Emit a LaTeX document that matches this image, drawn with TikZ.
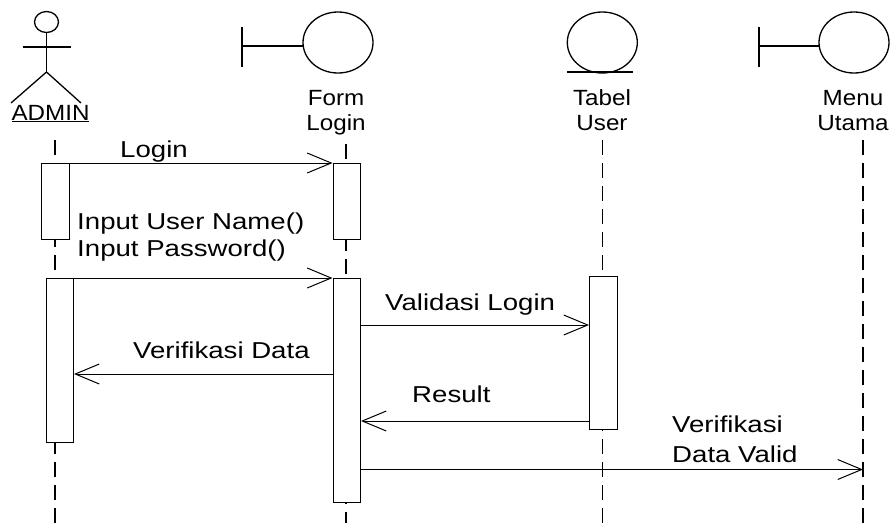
\documentclass[tikz,border=0pt]{standalone}
\usepackage{fontspec}
\setmainfont{Liberation Sans}
\usetikzlibrary{arrows.meta}
\usetikzlibrary{shapes.geometric}

\tikzset{
	figure/.style={line width=1.3pt},
	lifeline/.style={line width=1.5pt,dash pattern=on 14.5pt off 8.5pt},
	activation/.style={draw,fill=white,line width=1pt,anchor=north west,inner sep=0pt,minimum width=27.5pt},
	message/.style={line width=1pt,-{Straight Barb[length=24pt,width=20pt,line width=1pt]}},
	bubble/.style={draw,fill=white,ellipse,line width=1.3pt,inner sep=0pt,minimum width=70pt,minimum height=61pt},
	headlabel/.style={font=\fontsize{22}{25}\selectfont,align=center,anchor=base,xscale=1.1,transform shape,inner sep=0pt},
	msglabel/.style={font=\fontsize{23}{26}\selectfont,anchor=base west,xscale=1.2,transform shape,inner sep=0pt},
}

\begin{document}
\begin{tikzpicture}[x=1pt,y=-1pt]
	\useasboundingbox (0,0) rectangle (891,523);

	% lifelines
	\coordinate (AdminTop) at (55,140);
	\coordinate (AdminEnd) at (55,523);
	\coordinate (FormTop) at (346,144);
	\coordinate (FormEnd) at (346,523);
	\coordinate (TabelTop) at (602.5,140);
	\coordinate (TabelEnd) at (602.5,523);
	\coordinate (MenuTop) at (863,140);
	\coordinate (MenuEnd) at (863,523);
	\draw[lifeline] (AdminTop)--(AdminEnd);
	\draw[lifeline] (FormTop)--(FormEnd);
	\draw[lifeline] (TabelTop)--(TabelEnd);
	\draw[lifeline] (MenuTop)--(MenuEnd);

	% actor
	\coordinate (Hip) at (46.5,72);
	\coordinate (ArmL) at (22.5,47);
	\coordinate (ArmR) at (70.5,47);
	\coordinate (LegL) at (11,103);
	\coordinate (LegR) at (81,103);
	\node[draw,ellipse,figure,inner sep=0pt,minimum width=24pt,minimum height=21pt] (AdminHead) at (46.5,22) {};
	\draw[figure] (AdminHead.south)--(Hip);
	\draw[figure] (ArmL)--(ArmR);
	\draw[figure] (LegL)--(Hip)--(LegR);
	\node[headlabel] (AdminLabel) at (50.5,120) {\underline{ADMIN}};

	% boundary Form Login
	\coordinate (FormBarA) at (242,27);
	\coordinate (FormBarB) at (242,67);
	\coordinate (FormBarM) at (242,46);
	\coordinate (FormBarE) at (310,46);
	\draw[figure] (FormBarA)--(FormBarB);
	\draw[figure] (FormBarM)--(FormBarE);
	\node[bubble] (FormCircle) at (338,42.5) {};
	\node[headlabel] (FormLabel) at (336,130) {Form\\Login};

	% entity Tabel User
	\node[bubble] (TabelCircle) at (602.3,42.5) {};
	\coordinate (TabelLineA) at (567,72);
	\coordinate (TabelLineB) at (633,72);
	\draw[figure] (TabelLineA)--(TabelLineB);
	\node[headlabel] (TabelLabel) at (602,130) {Tabel\\User};

	% boundary Menu Utama
	\coordinate (MenuBarA) at (759,27);
	\coordinate (MenuBarB) at (759,67);
	\coordinate (MenuBarM) at (759,46);
	\coordinate (MenuBarE) at (825,46);
	\draw[figure] (MenuBarA)--(MenuBarB);
	\draw[figure] (MenuBarM)--(MenuBarE);
	\node[bubble] (MenuCircle) at (854,42.5) {};
	\node[headlabel] (MenuLabel) at (853,130) {Menu\\Utama};

	% activation bars
	\node[activation,minimum height=75.5pt] (AdminBarA) at (41,163) {};
	\node[activation,minimum height=75.5pt] (FormBarOne) at (332.5,163) {};
	\node[activation,minimum height=164pt] (AdminBarB) at (45.5,278) {};
	\node[activation,minimum height=224pt] (FormBarTwo) at (332.5,278) {};
	\node[activation,minimum height=153pt] (TabelBar) at (589,276) {};

	% message heights
	\coordinate (yValidasi) at (0,325);
	\coordinate (yVerifikasi) at (0,374);
	\coordinate (yResult) at (0,421);
	\coordinate (yValid) at (0,469.5);

	\draw[message] (AdminBarA.north east)--(FormBarOne.north west);
	\draw[message] (AdminBarB.north east)--(FormBarTwo.north west);
	\draw[message] (FormBarTwo.east |- yValidasi)--(TabelBar.west |- yValidasi);
	\draw[message] (FormBarTwo.west |- yVerifikasi)--(AdminBarB.east |- yVerifikasi);
	\draw[message] (TabelBar.west |- yResult)--(FormBarTwo.east |- yResult);
	\draw[message] (FormBarTwo.east |- yValid)--(MenuEnd |- yValid);

	% message labels
	\node[msglabel] (LoginMsg) at (120,157) {Login};
	\node[msglabel] (InputUser) at (77,229) {Input User Name()};
	\node[msglabel] (InputPass) at (77,256) {Input Password()};
	\node[msglabel] (ValidasiMsg) at (385,310) {Validasi Login};
	\node[msglabel] (VerifikasiMsg) at (133,358.5) {Verifikasi Data};
	\node[msglabel] (ResultMsg) at (412,402.5) {Result};
	\node[msglabel] (VerifikasiA) at (672,432.5) {Verifikasi};
	\node[msglabel] (VerifikasiB) at (672,462) {Data Valid};
\end{tikzpicture}
\end{document}
